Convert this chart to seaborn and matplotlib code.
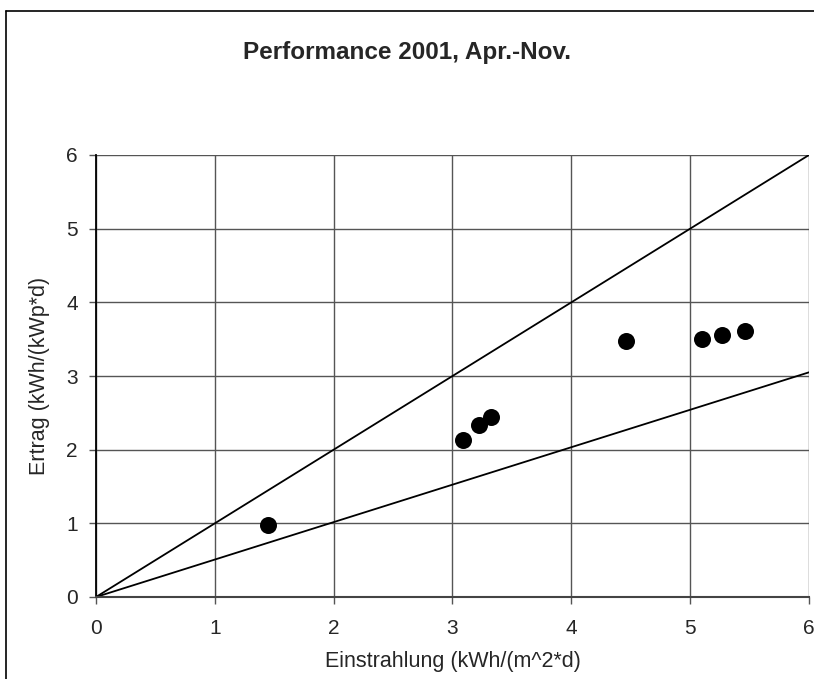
import matplotlib
matplotlib.use("Agg")
import matplotlib.pyplot as plt
import seaborn as sns
import pandas as pd
from matplotlib.lines import Line2D

# Data
einstrahlung = [1.45, 3.09, 3.22, 3.32, 4.46, 5.10, 5.27, 5.46]
ertrag = [0.98, 2.13, 2.34, 2.45, 3.48, 3.50, 3.55, 3.61]
ref_x = [0, 6]
ref_upper = [0, 6]
ref_lower = [0, 3.05]
ticks = [0, 1, 2, 3, 4, 5, 6]

sns.set_theme(style="white")
plt.rcParams['font.family'] = ['Liberation Sans', 'DejaVu Sans']

fig = plt.figure(figsize=(8.14, 6.79), dpi=100)
ax = fig.add_axes([96/814, 1-597/679, (809-96)/814, (597-155)/679])

df = pd.DataFrame({"x": einstrahlung, "y": ertrag})
sns.lineplot(x=ref_x, y=ref_upper, ax=ax, color="black", linewidth=1.3)
sns.lineplot(x=ref_x, y=ref_lower, ax=ax, color="black", linewidth=1.3)
sns.scatterplot(data=df, x="x", y="y", ax=ax, s=150, color="black",
                edgecolor="black", linewidth=0, zorder=5)

ax.set_xlim(0, 6)
ax.set_ylim(0, 6)
ax.set_xticks(ticks)
ax.set_yticks(ticks)
ax.grid(True, color="#555555", linewidth=1.0)
ax.set_axisbelow(True)
for s in ["top", "right"]:
    ax.spines[s].set_visible(False)
ax.spines["left"].set_color("black")
ax.spines["left"].set_linewidth(1.3)
ax.spines["bottom"].set_color("#444444")
ax.spines["bottom"].set_linewidth(1.5)
ax.tick_params(axis="both", which="both", direction="out", length=5,
               width=1, color="#555555", labelsize=15, bottom=True, left=True)
ax.tick_params(axis="x", pad=11)
ax.tick_params(axis="y", pad=8)

ax.set_xlabel("Einstrahlung (kWh/(m^2*d)", fontsize=15.5)
ax.set_ylabel("Ertrag (kWh/(kWp*d)", fontsize=15.5)
ax.xaxis.set_label_coords(0.5, (597-662)/(597-155), transform=ax.transAxes)
ax.yaxis.set_label_coords((39-96)/(809-96), 0.5, transform=ax.transAxes)
for lab in (ax.xaxis.label, ax.yaxis.label):
    lab.set_va("center")
fig.text(0.5, 1-52/679, "Performance 2001, Apr.-Nov.", ha="center", va="center",
         fontsize=17.5, fontweight="bold")

# outer chart frame (left and top edges visible)
fx = 5.5/814
fy = 1-11/679
fig.add_artist(Line2D([fx, fx], [0, fy], transform=fig.transFigure, color="black", linewidth=1.2))
fig.add_artist(Line2D([fx, 1], [fy, fy], transform=fig.transFigure, color="black", linewidth=1.2))

fig.savefig("out.png", dpi=100)
